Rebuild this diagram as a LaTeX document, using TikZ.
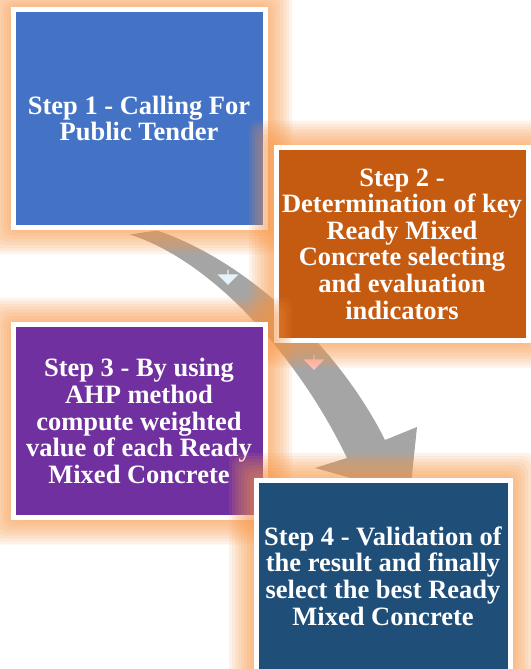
\documentclass[tikz,border=0pt]{standalone}
\usepackage{fontspec}
\setmainfont{Liberation Serif}
\usetikzlibrary{
	calc,
	arrows.meta,
	shapes.arrows
	}
\definecolor{stepblue}{HTML}{4472C4}
\definecolor{steporange}{HTML}{C55A11}
\definecolor{steppurple}{HTML}{7030A0}
\definecolor{stepnavy}{HTML}{1F4E79}
\definecolor{glowc}{HTML}{F79646}
\definecolor{arrowgray}{HTML}{A5A5A5}
\tikzstyle{step-box}=[draw=white,line width=5pt,text=white,align=center,inner sep=0pt,font=\fontsize{26.5}{26.6}\selectfont\bfseries]
\tikzstyle{glow}=[fill=glowc,fill opacity=0.11,rounded corners=10pt,inner sep=0pt,draw=none]
\tikzstyle{marker}=[single arrow,draw=none,inner sep=0pt,minimum height=15pt,minimum width=21pt,single arrow head extend=3pt,rotate=-90]
\newcommand{\glowat}[3]{%
  \foreach \g in {3,6,...,27}
    \node[glow,minimum width=#2pt+2*\g pt,minimum height=#3pt+2*\g pt] at (#1) {};
}
\pgfdeclarelayer{background}
\pgfsetlayers{background,main}

\begin{document}
\begin{tikzpicture}[x=1pt,y=-1pt]
\useasboundingbox (0,0) rectangle (530,669);

\glowat{139,118.5}{252}{217}
\node[step-box,fill=stepblue,minimum width=252pt,minimum height=217pt] (b1) at (139,118.5)
   {Step 1 - Calling For\\Public Tender};

\glowat{402,244}{252}{193}
\node[step-box,fill=steporange,minimum width=252pt,minimum height=193pt] (b2) at (402,244)
   {Step 2 -\\Determination of key\\Ready Mixed\\Concrete selecting\\and evaluation\\indicators};

\glowat{139,421}{252}{193}
\node[step-box,fill=steppurple,minimum width=252pt,minimum height=193pt] (b3) at (139,421)
   {Step 3 - By using\\AHP method\\compute weighted\\value of each Ready\\Mixed Concrete};

\glowat{383,576}{254}{192}
\node[step-box,fill=stepnavy,minimum width=254pt,minimum height=192pt] (b4) at (383,576)
   {Step 4 - Validation of\\the result and finally\\select the best Ready\\Mixed Concrete};

\coordinate (a-in) at ([xshift=-9pt,yshift=-5pt]b1.south);
\coordinate (a-out) at ([xshift=18pt,yshift=-1pt]b1.south);
\coordinate (a-tip) at ([xshift=27pt,yshift=-17pt]b4.north);

\begin{pgfonlayer}{background}
\fill[arrowgray] (a-in) .. controls (215,262) and (300,360) .. (347,458)
   -- (315,468) -- (a-tip) -- (417,427) -- (385,440)
   .. controls (340,350) and (250,262) .. (a-out) -- cycle;
\node[marker,fill=gray!25!cyan!12] (m1) at (228,277) {};
\node[marker,fill=red!25!white] (m2) at (314,362) {};
\end{pgfonlayer}
\end{tikzpicture}
\end{document}
